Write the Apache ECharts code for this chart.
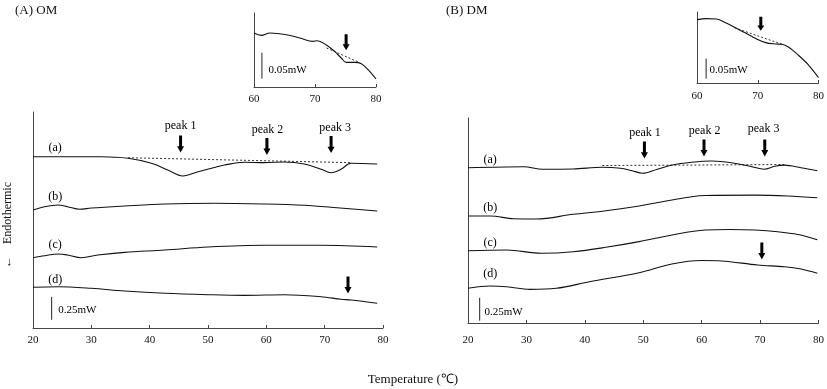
<!DOCTYPE html>
<html><head><meta charset="utf-8">
<script src="https://cdn.jsdelivr.net/npm/echarts@6/dist/echarts.min.js"></script>
<style>html,body{margin:0;padding:0;background:#fff}#c{width:827px;height:389px}</style>
</head><body><div id="c"></div>
<script>
// ---------- Panel A (OM) main curves: temperature (°C) / heat flow (mW, arbitrary offset) ----------
const omTa = [20, 31.7, 36.3, 40.3, 43.1, 45.7, 48.3, 51.1, 52.8, 56.2, 59.7, 63.1, 66.5, 69.4, 71.1, 72.8, 74.5, 79];
const omVa = [1.872, 1.872, 1.855, 1.800, 1.727, 1.661, 1.708, 1.755, 1.781, 1.812, 1.807, 1.815, 1.792, 1.734, 1.697, 1.734, 1.800, 1.792];
const omTb = [20, 22, 24.3, 25.9, 28, 30, 35.7, 42.6, 51.1, 59.7, 66.5, 72.1, 79];
const omVb = [1.290, 1.326, 1.344, 1.326, 1.297, 1.311, 1.333, 1.355, 1.363, 1.355, 1.341, 1.315, 1.279];
const omTc = [20, 22, 24.3, 25.9, 28.3, 31.1, 35.7, 42.6, 50, 59.7, 69.4, 79];
const omVc = [0.768, 0.790, 0.809, 0.798, 0.768, 0.798, 0.827, 0.852, 0.885, 0.904, 0.904, 0.885];
const omTd = [20, 24.3, 30, 35.7, 42.6, 50, 56.2, 63.1, 69.4, 72.8, 74.5, 79];
const omVd = [0.445, 0.451, 0.434, 0.404, 0.379, 0.364, 0.357, 0.364, 0.342, 0.314, 0.306, 0.270];
const omBaseT = [36.3, 74.5];
const omBaseV = [1.861, 1.807];

// ---------- Panel B (DM) main curves ----------
const dmTa = [20, 29.5, 32.8, 38, 43, 46.1, 48.1, 49.9, 52.3, 55, 58.3, 61.7, 65.1, 68.6, 70.7, 72.5, 74.2, 77, 79.8];
const dmVa = [1.697, 1.708, 1.680, 1.683, 1.702, 1.691, 1.664, 1.636, 1.678, 1.727, 1.756, 1.770, 1.752, 1.708, 1.681, 1.713, 1.725, 1.697, 1.664];
const dmTb = [20, 23.8, 27.8, 31.7, 38, 43.6, 49.3, 54.9, 58.3, 60.6, 69.1, 74.7, 79.8];
const dmVb = [1.169, 1.169, 1.140, 1.137, 1.188, 1.227, 1.279, 1.344, 1.380, 1.393, 1.397, 1.388, 1.369];
const dmTc = [20, 26.6, 32.6, 38, 43.6, 49.3, 54.9, 60.6, 65, 69.1, 73, 76.5, 79.8];
const dmVc = [0.790, 0.798, 0.762, 0.779, 0.827, 0.889, 0.962, 1.016, 1.022, 1.016, 0.998, 0.967, 0.910];
const dmTd = [20, 23.8, 26.6, 30.6, 35.1, 40.8, 49.3, 54.9, 60, 63.4, 69.6, 74.2, 77, 79.8];
const dmVd = [0.379, 0.404, 0.397, 0.368, 0.379, 0.451, 0.550, 0.645, 0.683, 0.678, 0.634, 0.615, 0.590, 0.543];
const dmBaseT = [43, 74.5];
const dmBaseV = [1.721, 1.732];

// ---------- Insets (60–80 °C, curve (d)) ----------
const omInsetT = [60, 61.2, 62.6, 65.3, 67.5, 69.7, 70.3, 71.8, 73.2, 74.3, 75.1, 76.5, 77.6, 78.7, 80];
const omInsetV = [0.1038, 0.0992, 0.1038, 0.1006, 0.0942, 0.0877, 0.0890, 0.0813, 0.0685, 0.0558, 0.0473, 0.0473, 0.0448, 0.0333, 0.0154];
const omInsetBaseT = [71.9, 77.1];
const omInsetBaseV = [0.075, 0.048];
const dmInsetT = [60, 61.5, 63.2, 64.8, 66.4, 68, 69.7, 71.3, 72.9, 74, 75.1, 76.7, 78.4, 80];
const dmInsetV = [0.1585, 0.161, 0.160, 0.150, 0.1375, 0.125, 0.111, 0.101, 0.0975, 0.0968, 0.0893, 0.0693, 0.0443, 0.0135];
const dmInsetBaseT = [66.2, 74];
const dmInsetBaseV = [0.138, 0.0968];

// ---------- Annotations ----------
const curveLabels = ['(a)', '(b)', '(c)', '(d)'];
const omCurveLabelY = [1.967, 1.432, 0.907, 0.525];
const dmCurveLabelY = [1.781, 1.257, 0.878, 0.536];
const peakLabels = ['peak 1', 'peak 2', 'peak 3'];
const omPeakT = [45.3, 60.2, 71.8];
const omPeakY = [2.208, 2.164, 2.186];
const dmPeakT = [50.3, 60.5, 70.6];
const dmPeakY = [2.080, 2.102, 2.117];
const omArrowT = [45.3, 60.1, 71.1, 74.0];
const omArrowY = [2.010, 1.984, 2.005, 0.470];
const dmArrowT = [50.2, 60.4, 70.8, 70.3];
const dmArrowY = [1.890, 1.913, 1.913, 0.787];
const omInsetArrow = [75.1, 0.086];
const dmInsetArrow = [70.5, 0.148];
const mainScaleLabel = '0.25mW';
const insetScaleLabel = '0.05mW';
const omScaleBar = {t: 23.2, y: [0.09, 0.34], labelT: 27.6, labelY: 0.197};
const dmScaleBar = {t: 22.0, y: [0.025, 0.275], labelT: 26.1, labelY: 0.124};
const omInsetScaleBar = {t: 61.3, y: [0.016, 0.066], labelT: 65.5, labelY: 0.0333};
const dmInsetScaleBar = {t: 61.5, y: [0.011, 0.061], labelT: 65.2, labelY: 0.032};

const FONT = '"Liberation Serif", "Times New Roman", serif';
const CURVE = '#111';
const AXIS = '#444';
const ARROW_PATH = 'path://M2,0 L5,0 L5,10 L7,10 L3.5,16 L0,10 L2,10 Z';

function zip(t, v) { return t.map((x, i) => [x, v[i]]); }

function curve(idx, t, v) {
  return { type: 'line', xAxisIndex: idx, yAxisIndex: idx, data: zip(t, v), smooth: 0.35,
    showSymbol: false, symbol: 'none', lineStyle: { color: CURVE, width: 1.1 }, silent: true, z: 3 };
}
function dashed(idx, t, v) {
  return { type: 'line', xAxisIndex: idx, yAxisIndex: idx, data: zip(t, v), symbol: 'none',
    lineStyle: { color: '#333', width: 1, type: [2, 2] }, silent: true, z: 2 };
}
function bar(idx, sb) {
  return { type: 'line', xAxisIndex: idx, yAxisIndex: idx, data: [[sb.t, sb.y[0]], [sb.t, sb.y[1]]],
    symbol: 'none', lineStyle: { color: '#222', width: 1 }, silent: true };
}
function texts(idx, items, size) {
  return { type: 'scatter', xAxisIndex: idx, yAxisIndex: idx, symbolSize: 1,
    itemStyle: { color: 'rgba(0,0,0,0)' }, silent: true, z: 5,
    data: items.map(it => ({ value: [it[0], it[1]], label: { formatter: it[2] } })),
    label: { show: true, position: 'inside', color: '#000', textBorderWidth: 0, opacity: 1,
      fontFamily: FONT, fontSize: size } };
}
function arrows(idx, pts, h) {
  return { type: 'scatter', xAxisIndex: idx, yAxisIndex: idx, symbol: ARROW_PATH, symbolSize: [7, h],
    itemStyle: { color: '#000', opacity: 1 }, silent: true, z: 6, data: pts };
}

const grids = [
  { left: 33, top: 112, width: 350, height: 216 },
  { left: 468, top: 118, width: 353, height: 205 },
  { left: 254, top: 13, width: 122, height: 74 },
  { left: 697, top: 12, width: 123, height: 71 }
];
const xRanges = [[20, 80], [20, 80], [60, 80], [60, 80]];
const yMax = [216 / 91.5, 205 / 91.5, 74 / 520, 71 / 400];
const labelMargin = [7, 12, 7, 8];

const option = {
  backgroundColor: '#fff',
  animation: false,
  grid: grids,
  xAxis: grids.map((g, i) => ({
    gridIndex: i, type: 'value', min: xRanges[i][0], max: xRanges[i][1], interval: 10,
    axisLine: { lineStyle: { color: AXIS, width: 1 } },
    axisTick: { inside: true, length: 3, lineStyle: { color: AXIS } },
    axisLabel: { color: '#111', fontFamily: FONT, fontSize: 11, margin: labelMargin[i] },
    splitLine: { show: false }
  })),
  yAxis: grids.map((g, i) => ({
    gridIndex: i, type: 'value', min: 0, max: yMax[i],
    axisLine: { show: true, lineStyle: { color: AXIS, width: 1 } },
    axisTick: { show: false }, axisLabel: { show: false }, splitLine: { show: false }
  })),
  graphic: [
    { type: 'text', left: 15, top: 4, style: { text: '(A) OM', font: '13px ' + FONT, fill: '#111' } },
    { type: 'text', left: 446, top: 4, style: { text: '(B) DM', font: '13px ' + FONT, fill: '#111' } },
    { type: 'text', x: 8, y: 225, rotation: Math.PI / 2,
      style: { text: '←    Endothermic', font: '12px ' + FONT, fill: '#111', align: 'center', verticalAlign: 'middle' } },
    { type: 'text', x: 413, y: 380,
      style: { text: 'Temperature (℃)', font: '13px ' + FONT, fill: '#111', align: 'center', verticalAlign: 'middle' } }
  ],
  series: [
    curve(0, omTa, omVa), curve(0, omTb, omVb), curve(0, omTc, omVc), curve(0, omTd, omVd),
    dashed(0, omBaseT, omBaseV),
    curve(1, dmTa, dmVa), curve(1, dmTb, dmVb), curve(1, dmTc, dmVc), curve(1, dmTd, dmVd),
    dashed(1, dmBaseT, dmBaseV),
    curve(2, omInsetT, omInsetV), dashed(2, omInsetBaseT, omInsetBaseV),
    curve(3, dmInsetT, dmInsetV), dashed(3, dmInsetBaseT, dmInsetBaseV),
    bar(0, omScaleBar), bar(1, dmScaleBar), bar(2, omInsetScaleBar), bar(3, dmInsetScaleBar),
    texts(0, curveLabels.map((l, i) => [23.8, omCurveLabelY[i], l]), 12),
    texts(1, curveLabels.map((l, i) => [23.8, dmCurveLabelY[i], l]), 12),
    texts(0, peakLabels.map((l, i) => [omPeakT[i], omPeakY[i], l]), 12),
    texts(1, peakLabels.map((l, i) => [dmPeakT[i], dmPeakY[i], l]), 12),
    texts(0, [[omScaleBar.labelT, omScaleBar.labelY, mainScaleLabel]], 11),
    texts(1, [[dmScaleBar.labelT, dmScaleBar.labelY, mainScaleLabel]], 11),
    texts(2, [[omInsetScaleBar.labelT, omInsetScaleBar.labelY, insetScaleLabel]], 11),
    texts(3, [[dmInsetScaleBar.labelT, dmInsetScaleBar.labelY, insetScaleLabel]], 11),
    arrows(0, omArrowT.map((t, i) => [t, omArrowY[i]]), 17),
    arrows(1, dmArrowT.map((t, i) => [t, dmArrowY[i]]), 17),
    arrows(2, [omInsetArrow], 16),
    arrows(3, [dmInsetArrow], 14)
  ]
};
const chart = echarts.init(document.getElementById('c'), null, { renderer: 'canvas' });
chart.setOption(option);
</script>
</body></html>
